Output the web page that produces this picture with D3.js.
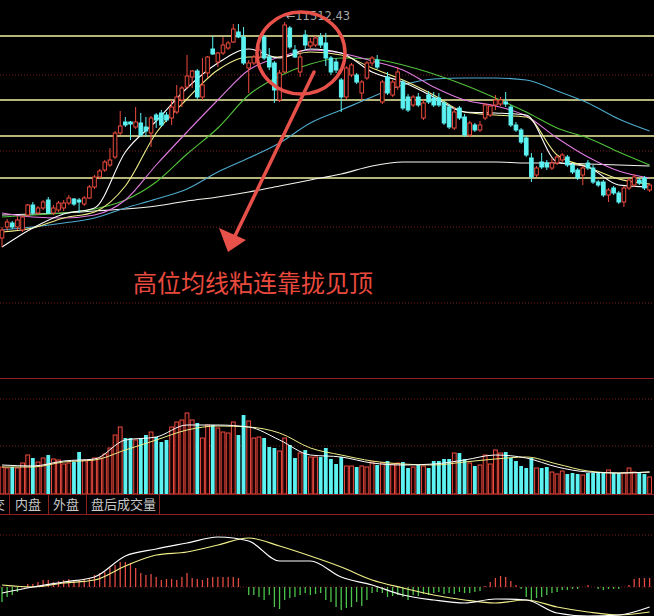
<!DOCTYPE html>
<html><head><meta charset="utf-8">
<script src="https://cdn.jsdelivr.net/npm/d3@7"></script>
<style>html,body{margin:0;padding:0;background:#000;overflow:hidden}svg{display:block}</style>
</head><body><svg id="c" width="654" height="616"></svg>
<script>
// ---------- data ----------
const open = [9352,9462,9502,9462,9432,9582,9682,9602,9652,9732,9602,9632,9652,9702,9742,9732,9692,9752,9862,9962,10032,10082,10162,10402,10512,10512,10462,10502,10462,10402,10582,10602,10582,10552,10612,10732,10862,10962,11022,10762,11002,11242,11112,11202,11252,11312,11412,11362,11052,11102,11162,11362,11162,11102,10732,11012,11452,11232,11012,11382,11272,11282,11362,11302,11152,11112,10932,10762,10982,10982,10802,10952,11102,11132,10712,10962,10782,10862,10912,10762,10682,10762,10552,10782,10752,10752,10702,10662,10452,10652,10562,10382,10482,10432,10552,10582,10682,10692,10712,10662,10482,10432,10352,10152,9982,10112,10102,10052,10102,10132,10162,10082,10032,9982,10102,10052,9912,9912,9782,9852,9802,9712,9852,9882,9932,9952,9832];
const close = [9432,9512,9462,9532,9562,9682,9602,9652,9712,9602,9652,9702,9702,9752,9692,9712,9752,9862,9962,10022,10112,10132,10402,10472,10482,10492,10512,10382,10422,10552,10532,10482,10532,10662,10762,10852,10972,11022,10762,10882,11162,11192,11202,11282,11302,11442,11362,11102,11102,11162,11232,11152,11062,10832,11002,11482,11262,11162,11162,11282,11312,11352,11282,11152,11012,11032,10762,11052,11082,10912,10912,11102,11152,11062,10912,10802,10912,11012,10652,10632,10762,10682,10702,10712,10682,10682,10502,10462,10612,10552,10382,10502,10432,10482,10682,10672,10732,10732,10692,10482,10432,10312,10182,9962,10052,10062,10062,10102,10162,10182,10082,10012,9952,10052,10052,9912,9882,9782,9832,9802,9712,9852,9932,9962,9902,9852,9882];
const high = [9462,9542,9522,9572,9582,9692,9712,9672,9732,9762,9682,9722,9732,9782,9752,9752,9772,9882,9982,10042,10132,10252,10422,10622,10562,10522,10662,10602,10562,10572,10602,10632,10612,10732,10882,10872,11182,11032,11042,11152,11172,11372,11212,11362,11322,11492,11492,11462,11132,11182,11282,11382,11252,11122,11032,11512.43,11472,11282,11232,11432,11352,11372,11402,11402,11172,11152,10952,11072,11102,11002,10932,11122,11172,11182,10932,11012,10932,11062,10932,10792,10782,10802,10732,10822,10812,10802,10722,10692,10662,10672,10592,10522,10502,10522,10702,10692,10782,10762,10812,10682,10512,10452,10372,10202,10072,10202,10132,10152,10182,10202,10182,10102,10052,10072,10132,10082,9932,9932,9852,9872,9822,9872,9952,9992,9952,9972,9902];
const low = [9262,9422,9442,9432,9412,9562,9582,9582,9632,9592,9582,9612,9622,9682,9672,9602,9672,9742,9842,9942,10012,10062,10142,10382,10462,10332,10442,10362,10362,10262,10452,10462,10512,10482,10592,10662,10842,10852,10742,10732,10952,11182,11062,11182,11232,11302,11352,11082,10802,11082,11142,11132,11032,10702,10712,11002,11242,11152,10962,11232,11252,11262,11252,11072,10982,11002,10612,10742,10962,10892,10732,10932,11072,11042,10692,10782,10762,10832,10632,10612,10662,10662,10532,10692,10662,10662,10482,10442,10432,10532,10362,10362,10412,10412,10532,10562,10632,10672,10662,10462,10412,10292,10162,9912,9962,10042,10032,10032,10082,10112,10062,9992,9932,9882,10032,9892,9862,9762,9712,9782,9692,9662,9832,9862,9882,9832,9812];
const volume = [27,26,27,26,31,39,36,32,36,39,35,34,30,31,32,42,34,34,36,36,40,46,59,67,56,56,54,56,59,62,57,52,54,67,72,74,81,74,71,56,69,69,66,62,61,72,59,79,73,56,57,56,47,46,43,56,49,36,41,44,37,37,37,46,35,30,37,28,28,27,28,27,32,29,31,33,30,31,32,26,27,29,28,26,33,33,35,35,41,41,35,31,28,29,39,30,44,41,42,36,33,28,26,36,26,26,27,22,20,23,20,21,20,19,21,21,21,22,24,21,21,21,26,22,22,20,17];

// moving averages, read at these candle positions
const maIndex = [0,6,12,18,24,30,36,42,48,54,60,66,72,78,84,90,96,102,108,114,120,126];
const ma5   = [9262,9452,9592,9652,10212,10522,10852,11102,11242,11152,11242,11202,11012,10912,10762,10612,10602,10582,10112,10062,9882,9862];
const ma10  = [9412,9452,9552,9612,9872,10402,10742,11032,11162,11162,11212,11182,11052,10932,10782,10612,10582,10562,10182,10062,9942,9892];
const ma20  = [9602,9562,9552,9582,9732,10082,10412,10732,11032,11162,11232,11202,11122,11032,10862,10732,10672,10572,10352,10162,10022,9952];
const ma30  = [9562,9582,9602,9642,9732,9912,10192,10452,10782,10972,11092,11152,11142,11082,10992,10882,10752,10612,10452,10352,10212,10082];
const ma60  = [9432,9462,9502,9552,9652,9742,9842,10012,10152,10302,10502,10632,10762,10882,10942,10952,10952,10932,10822,10702,10542,10422];
const ma250 = [9582,9592,9602,9622,9642,9672,9722,9762,9812,9872,9932,9992,10072,10112,10112,10112,10112,10102,10102,10092,10082,10072];
const volMa5  = [29,28,33,35,54,57,69,69,67,54,39,37,31,29,30,34,39,36,27,22,21,22];
const volMa10 = [27,27,32,34,44,54,64,68,67,61,46,39,33,30,29,32,35,37,30,23,21,22];

const macdHist = [-15,-10,-8,-5,0,3,3,5,7,7,5,6,7,8,7,7,8,9,12,14,15,19,22,25,25,24,19,14,12,13,10,7,
  8,
  8,7,10,14,9,8,7,9,10,10,10,10,10,9,0,-8,-8,-10,-13,-8,-20,-22,-13,-11,-10,-8,-6,-8,-7,-6,
  -13,-15,-20,-23,-21,-20,-15,-19,-13,-6,-5,-6,-10,-9,-8,-10,-13,-8,-9,-7,-8,-6,-5,-7,-6,-7,-5,-6,-6,-5,-4,1,5,9,11,10,6,2,-2,-10,-13,-11,-10,-8,-6,-5,-3,-3,-2,-2,0,2,0,-2,-3,-2,-2,-2,0,2,8,9,9,9];
const dif = [-6,0,5,10,31,38,44,50,46,26,26,10,2,-8,-13,-16,-12,-13,-26,-29,-28,-20];
const dea = [2,0,4,7,21,32,35,42,49,41,31,20,7,-1,-8,-13,-16,-13,-20,-25,-28,-25];

const levels = [11372, 10732, 10372, 9952];
const peakIndex = 55;
const peakLabel = "11512.43";
const tabs = ["内盘", "外盘", "盘后成交量"];
const note = "高位均线粘连靠拢见顶";

// ---------- layout ----------
const W = 654, H = 616;
const svg = d3.select("#c");
svg.append("rect").attr("width", W).attr("height", H).attr("fill", "#000");

const N = open.length;
const x = d3.scaleLinear().domain([0, N - 1]).range([2, 649.6]);
const yP = d3.scaleLinear().domain([7952, 11732]).range([378, 0]);
const yV = d3.scaleLinear().domain([0, 116]).range([494, 378]);
const yM = d3.scaleLinear().domain([0, 52]).range([587, 535]);

const RED = "#ec4a3e", CYAN = "#5cf2f2", GRID = "#7a1e1e", BORDER = "#8e2020";

const defs = svg.append("defs");
defs.append("clipPath").attr("id", "cp").append("rect").attr("x", 0).attr("y", 0).attr("width", W).attr("height", 377);
defs.append("clipPath").attr("id", "cv").append("rect").attr("x", 0).attr("y", 379).attr("width", W).attr("height", 115);
defs.append("clipPath").attr("id", "cm").append("rect").attr("x", 0).attr("y", 515).attr("width", W).attr("height", 101);

// dotted grids
function dotted(y) {
  svg.append("line").attr("x1", 0).attr("x2", W).attr("y1", y).attr("y2", y)
    .attr("stroke", GRID).attr("stroke-width", 1).attr("stroke-dasharray", "1,2");
}
[75, 151, 227, 303].forEach(dotted);
[399, 446].forEach(dotted);
[535, 587].forEach(dotted);

// solid borders
[378, 494, 514].forEach(y => svg.append("line").attr("x1", 0).attr("x2", W)
  .attr("y1", y + 0.5).attr("y2", y + 0.5).attr("stroke", BORDER).attr("stroke-width", 1.2));

// ---------- price panel ----------
const gp = svg.append("g").attr("clip-path", "url(#cp)");
gp.selectAll("line.lvl").data(levels).join("line").attr("class", "lvl")
  .attr("x1", 0).attr("x2", W).attr("y1", d => yP(d)).attr("y2", d => yP(d))
  .attr("stroke", "#f2f2a2").attr("stroke-width", 1.4);

const line = (arr, ys) => d3.line().x((d, i) => x(maIndex[i])).y(d => ys(d)).curve(d3.curveMonotoneX)(arr);
[[ma250, "#f4f4ee"], [ma60, "#4ea9cc"], [ma30, "#52c13c"], [ma20, "#e07ae0"], [ma10, "#f0ee8a"], [ma5, "#ffffff"]]
  .forEach(([arr, c]) => gp.append("path").attr("d", line(arr, yP)).attr("fill", "none")
    .attr("stroke", c).attr("stroke-width", 1.1));

const idx = d3.range(N);
const cg = gp.selectAll("g.c").data(idx).join("g").attr("class", "c");
cg.append("line").attr("x1", i => x(i)).attr("x2", i => x(i))
  .attr("y1", i => yP(high[i])).attr("y2", i => yP(low[i]))
  .attr("stroke", i => close[i] >= open[i] ? RED : CYAN).attr("stroke-width", 1);
cg.append("rect")
  .attr("x", i => x(i) - 1.8).attr("width", 3.6)
  .attr("y", i => yP(Math.max(open[i], close[i])))
  .attr("height", i => Math.max(1, Math.abs(yP(open[i]) - yP(close[i]))))
  .attr("fill", i => close[i] >= open[i] ? "#000" : CYAN)
  .attr("stroke", i => close[i] >= open[i] ? RED : CYAN).attr("stroke-width", 1);

// peak label
svg.append("text").attr("x", x(peakIndex) + 1).attr("y", yP(high[peakIndex]) - 2)
  .attr("font-family", "DejaVu Sans, sans-serif").attr("font-size", 11.5).attr("fill", "#a8a8a8")
  .text("←" + peakLabel);

// ---------- volume panel ----------
const gv = svg.append("g").attr("clip-path", "url(#cv)");
gv.selectAll("rect").data(idx).join("rect")
  .attr("x", i => x(i) - 1.9).attr("width", 3.8)
  .attr("y", i => yV(volume[i])).attr("height", i => yV(0) - yV(volume[i]))
  .attr("fill", i => close[i] >= open[i] ? "#1a0202" : CYAN)
  .attr("stroke", i => close[i] >= open[i] ? RED : "none").attr("stroke-width", 1);
[[volMa10, "#f0ee8a"], [volMa5, "#ffffff"]].forEach(([arr, c]) =>
  gv.append("path").attr("d", line(arr, yV)).attr("fill", "none").attr("stroke", c).attr("stroke-width", 1));

// ---------- tabs ----------
const tf = "Noto Sans CJK SC, sans-serif";
svg.append("text").attr("x", 5).attr("y", 509).attr("text-anchor", "end").attr("font-family", tf)
  .attr("font-size", 13).attr("fill", "#c8c8c8").text("成交");
const tabX = [15, 53, 91];
tabs.forEach((t, i) => svg.append("text").attr("x", tabX[i]).attr("y", 509).attr("font-family", tf)
  .attr("font-size", 13).attr("fill", "#c8c8c8").text(t));
[9, 48, 86, 159].forEach(sx => svg.append("line").attr("x1", sx + 0.5).attr("x2", sx + 0.5)
  .attr("y1", 495).attr("y2", 514).attr("stroke", BORDER).attr("stroke-width", 1));

// ---------- MACD panel ----------
const gm = svg.append("g").attr("clip-path", "url(#cm)");
gm.selectAll("line.h").data(idx).join("line").attr("class", "h")
  .attr("x1", i => x(i)).attr("x2", i => x(i))
  .attr("y1", yM(0)).attr("y2", i => yM(macdHist[i]))
  .attr("stroke", i => macdHist[i] >= 0 ? "#e04a40" : "#4cc44c").attr("stroke-width", 1.3);
[[dea, "#f0ee8a"], [dif, "#ffffff"]].forEach(([arr, c]) =>
  gm.append("path").attr("d", line(arr, yM)).attr("fill", "none").attr("stroke", c).attr("stroke-width", 1.2));

// ---------- annotation ----------
const AC = "#e8504a";
svg.append("ellipse").attr("cx", 301).attr("cy", 53).attr("rx", 44).attr("ry", 41)
  .attr("fill", "none").attr("stroke", AC).attr("stroke-width", 3.5);
svg.append("line").attr("x1", 314).attr("y1", 72).attr("x2", 234).attr("y2", 238)
  .attr("stroke", AC).attr("stroke-width", 3.5).attr("stroke-linecap", "round");
svg.append("path").attr("d", "M228,252 L219,228 L246,240 Z").attr("fill", AC);

svg.append("text").attr("x", 133).attr("y", 292).attr("font-family", tf)
  .attr("font-size", 24).attr("fill", "#ea4a3e").attr("textLength", 240).text(note);
</script></body></html>
